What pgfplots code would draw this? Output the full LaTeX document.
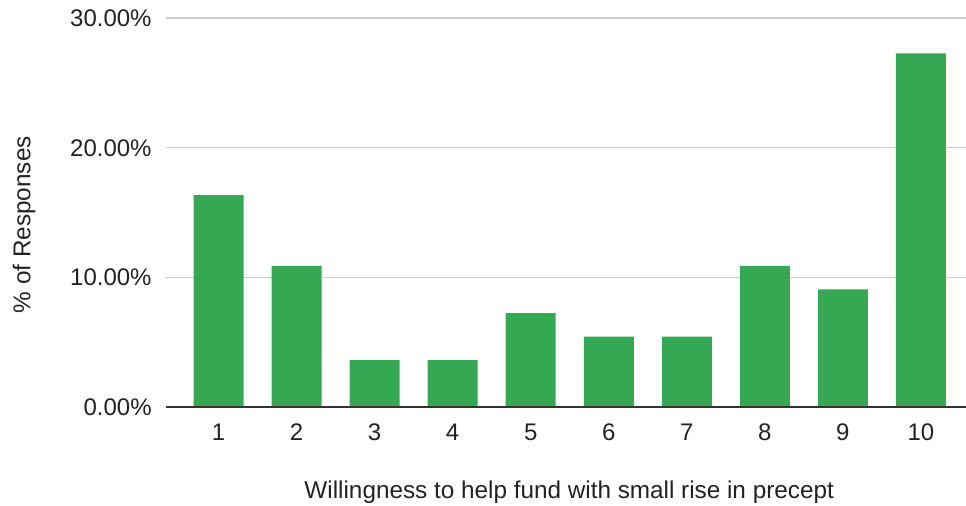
\documentclass[border=0pt]{standalone}
\usepackage{pgfplots}
\pgfplotsset{compat=1.18}
\usepackage{fontspec}
\setmainfont{Liberation Sans}
\definecolor{barg}{HTML}{34A853}
\definecolor{txt}{HTML}{222222}
\definecolor{grd}{HTML}{CCCCCC}
\definecolor{axl}{HTML}{333333}
\begin{document}
\begin{tikzpicture}
\useasboundingbox (0,0) rectangle (483pt,253pt);
\begin{axis}[
  at={(83pt,49.25pt)}, anchor=south west,
  scale only axis, width=400pt, height=194.75pt,
  xmin=0.327, xmax=10.577, ymin=0, ymax=30,
  ytick={0,10,20,30},
  xtick={1,2,3,4,5,6,7,8,9,10},
  axis line style={draw=none},
  major tick length=0pt,
  ymajorgrids, grid style={grd, line width=0.6pt},
  font=\fontsize{12}{14}\selectfont,
  /pgf/number format/assume math mode=true,
  yticklabel={\pgfmathprintnumber[fixed,fixed zerofill,precision=2]{\tick}\%},
  yticklabel style={anchor=east, inner sep=0pt, xshift=-7pt, text=txt},
  xticklabel style={anchor=center, inner sep=0pt, yshift=-12.5pt, text=txt},
  xlabel={Willingness to help fund with small rise in precept},
  ylabel={\% of Responses},
  xlabel style={at={(axis description cs:0.504,0)}, anchor=center, yshift=-42.25pt, text=txt, font=\fontsize{12.15}{14}\selectfont},
  ylabel style={at={(axis description cs:0,0.5)}, anchor=center, yshift=71pt, xshift=-6pt, text=txt, font=\fontsize{12.15}{14}\selectfont},
  clip=false,
]
\addplot[ybar, bar width=25pt, fill=barg, draw=none] coordinates {
(1,16.36) (2,10.91) (3,3.64) (4,3.64) (5,7.27) (6,5.45) (7,5.45) (8,10.91) (9,9.09) (10,27.27)
};
\draw[axl, line width=1pt] (axis cs:0.327,0) -- (axis cs:10.577,0);
\end{axis}
\end{tikzpicture}
\end{document}
